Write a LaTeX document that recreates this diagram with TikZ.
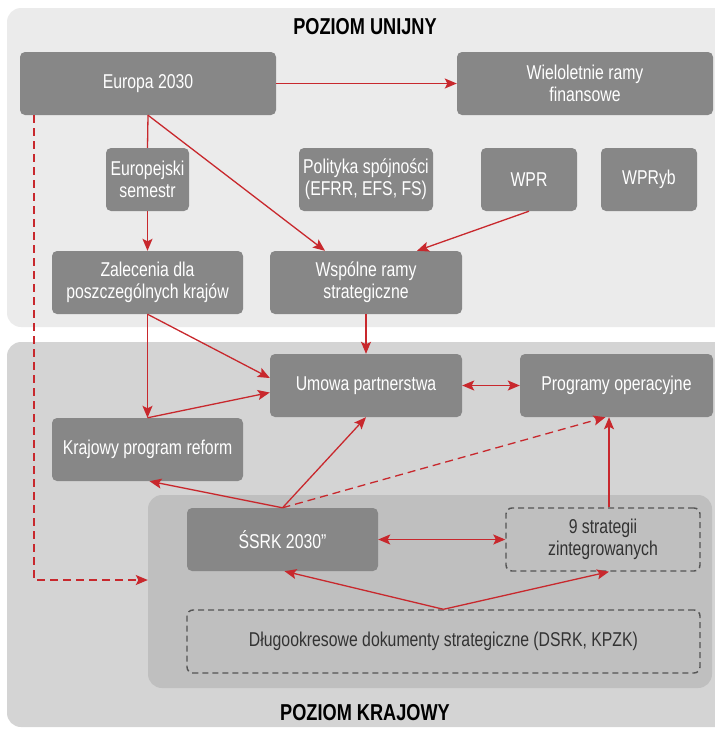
\documentclass[tikz,border=0pt]{standalone}
\usepackage{fontspec}
\setmainfont{Liberation Sans}[FakeStretch=0.79]
\usetikzlibrary{arrows.meta}
\definecolor{boxgray}{HTML}{878787}
\definecolor{topgray}{HTML}{EBEBEB}
\definecolor{natgray}{HTML}{D4D4D4}
\definecolor{innergray}{HTML}{BFBFBF}
\definecolor{linkred}{HTML}{C8282D}
\definecolor{dashgray}{HTML}{555555}

\begin{document}
\begin{tikzpicture}[x=1pt,y=-1pt,
    box/.style={rounded corners=5pt,fill=boxgray,text=white,align=center,
      minimum height=63pt,inner sep=2pt,font=\fontsize{20}{22}\selectfont},
    dbox/.style={rounded corners=6pt,draw=dashgray,dashed,dash pattern=on 6pt off 4pt,
      line width=1.4pt,text=black!80,align=center,minimum height=63pt,
      inner sep=2pt,font=\fontsize{20}{22}\selectfont},
    panel/.style={rounded corners=14pt,inner sep=0pt},
    title/.style={font=\fontsize{23}{26}\selectfont\bfseries,text=black},
    arr/.style={draw=linkred,line width=1.3pt,-{Stealth[length=12pt,width=10pt,inset=2.5pt]}},
    arrs/.style={arr,{Stealth[length=12pt,width=10pt,inset=2.5pt]}-{Stealth[length=12pt,width=10pt,inset=2.5pt]}},
    darr/.style={arr,dash pattern=on 8pt off 5pt},
    ln/.style={draw=linkred,line width=1.3pt}]

  \useasboundingbox (0,0) rectangle (715,729);
  \begin{scope}
    \clip (0,0) rectangle (715,729);
    \fill[topgray,rounded corners=14pt] (7,8) rectangle (740,327);
    \fill[natgray,rounded corners=14pt] (7,342) rectangle (740,727);
  \end{scope}
  \node[panel,fill=innergray,minimum width=564pt,minimum height=193pt] (inner) at (430,591.5) {};

  \node[title] (tu) at (365,27) {POZIOM UNIJNY};
  \node[title] (tk) at (365,713) {POZIOM KRAJOWY};

  % poziom unijny
  \node[box,minimum width=256pt] (eu) at (148,83.5) {Europa 2030};
  \node[box,minimum width=256pt] (wrf) at (585,83.5) {Wieloletnie ramy\\finansowe};
  \node[box,minimum width=83pt] (es) at (147.5,179.5) {Europejski\\semestr};
  \node[box,minimum width=134pt] (ps) at (366,179.5) {Polityka spójności\\(EFRR, EFS, FS)};
  \node[box,minimum width=96pt] (wpr) at (529,179.5) {WPR};
  \node[box,minimum width=96pt] (wpryb) at (649,179.5) {WPRyb};
  \node[box,minimum width=191pt] (zal) at (147.5,282.5) {Zalecenia dla\\poszczególnych krajów};
  \node[box,minimum width=192pt] (wrs) at (366,282.5) {Wspólne ramy\\strategiczne};

  % poziom krajowy
  \node[box,minimum width=192pt] (up) at (366,385.5) {Umowa partnerstwa};
  \node[box,minimum width=193pt] (po) at (616.5,385.5) {Programy operacyjne};
  \node[box,minimum width=191pt] (kpr) at (147.5,449.5) {Krajowy program reform};
  \node[box,minimum width=191pt] (srk) at (282.5,539.5) {ŚSRK 2030”};
  \node[dbox,minimum width=194pt] (str) at (603,539.5) {9 strategii\\zintegrowanych};
  \node[dbox,minimum width=513pt] (dok) at (443.5,641.5) {Długookresowe dokumenty strategiczne (DSRK, KPZK)};

  \coordinate (bend) at (34,580);

  \draw[arr] (eu.east) -- (wrf.west);
  \draw[ln] (eu.south) -- (es.north);
  \draw[arr] (es.south) -- (zal.north);
  \draw[arr] (eu.south) -- ([xshift=-41pt]wrs.north);
  \draw[arr] (wpr.south) -- ([xshift=51pt]wrs.north);
  \draw[arr] (wrs.south) -- (up.north);
  \draw[arr] (zal.south) -- ([yshift=7.5pt]up.west);
  \draw[arr] (zal.south) -- (kpr.north);
  \draw[arr] (kpr.north) -- ([yshift=-7pt]up.west);
  \draw[arrs] (up.east) -- (po.west);
  \draw[arr] (srk.north) -- ([xshift=2pt]kpr.south);
  \draw[arr] (srk.north) -- (up.south);
  \draw[darr] (srk.north) -- ([xshift=-11pt]po.south);
  \draw[arr] ([xshift=6pt]str.north) -- ([xshift=6pt]str.north |- po.south);
  \draw[arrs] (srk.east) -- (str.west);
  \draw[arr] (dok.north) -- ([xshift=2pt]srk.south);
  \draw[arr] (dok.north) -- ([xshift=6pt]str.south);
  \draw[darr] (eu.south -| bend) -- (bend) -- (bend -| inner.west);
\end{tikzpicture}
\end{document}
